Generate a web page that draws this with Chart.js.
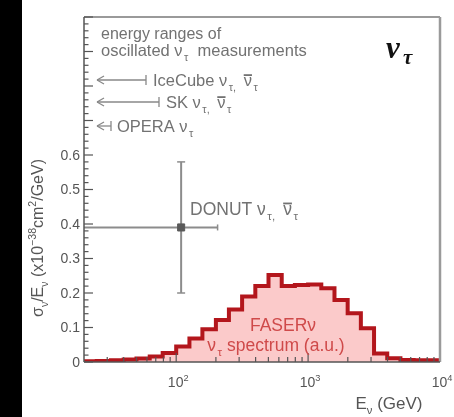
<!DOCTYPE html>
<html>
<head>
<meta charset="utf-8">
<script src="https://cdn.jsdelivr.net/npm/chart.js@4"></script>
<style>
  html, body { margin: 0; padding: 0; background: #fff; }
  #wrap { width: 454px; height: 417px; }
</style>
</head>
<body>
<div id="wrap"><canvas id="nutau"></canvas></div>
<script>
// FASERnu tau-neutrino spectrum, binned in 0.1 decades of energy (GeV)
const binEdges = [20, 25, 32, 40, 50, 63, 79, 100, 126, 158, 200, 251, 316, 398, 501,
    631, 794, 1000, 1259, 1585, 1995, 2512, 3162, 3981, 5012, 6310, 7943, 10000];
const spectrum = [0.002, 0.003, 0.005, 0.007, 0.010, 0.016, 0.026, 0.045, 0.068, 0.095,
    0.122, 0.152, 0.190, 0.220, 0.252, 0.220, 0.223, 0.225, 0.214, 0.180, 0.141, 0.098,
    0.025, 0.011, 0.006, 0.005, 0.005];

// DONUT measurement: energy, sigma/E, and error bar extent
const donutE = 109;
const donutSigma = 0.39;
const donutSigmaRange = [0.2, 0.58];
const donutERange = [10, 206];

// axis ticks
const yTickLabels = ["0", "0.1", "0.2", "0.3", "0.4", "0.5", "0.6"];
const xTickLabels = [[100, "2"], [1000, "3"], [10000, "4"]];

const FONT = '"Liberation Sans", Arial, sans-serif';

var histData = binEdges.map((e, i) => ({ x: e, y: spectrum[Math.min(i, spectrum.length - 1)] }));

function drawRich(ctx, x, y, parts, align, size) {
    let w = 0;
    parts.forEach(p => {
        p.s = p.sub || p.sup ? size * 0.66 : size;
        ctx.font = p.s + 'px ' + FONT;
        p.w = ctx.measureText(p.t).width + (p.pad || 0);
        w += p.w;
    });
    let cx = align === 'center' ? x - w / 2 : (align === 'right' ? x - w : x);
    parts.forEach(p => {
        ctx.font = p.s + 'px ' + FONT;
        let dy = p.sub ? size * 0.3 : (p.sup ? -size * 0.42 : 0);
        ctx.fillText(p.t, cx + (p.pad || 0), y + dy);
        if (p.bar) {
            ctx.save();
            ctx.lineWidth = 1.8;
            ctx.strokeStyle = ctx.fillStyle;
            ctx.beginPath();
            ctx.moveTo(cx, y - size * 0.66);
            ctx.lineTo(cx + p.w, y - size * 0.66);
            ctx.stroke();
            ctx.restore();
        }
        cx += p.w;
    });
}

function line(ctx, x1, y1, x2, y2) {
    ctx.beginPath();
    ctx.moveTo(x1, y1);
    ctx.lineTo(x2, y2);
    ctx.stroke();
}

// range arrow: open head on the left, bar on the right
function rangeArrow(ctx, x1, x2, y) {
    line(ctx, x1, y, x2, y);
    line(ctx, x1, y, x1 + 7, y - 4);
    line(ctx, x1, y, x1 + 7, y + 4);
    line(ctx, x2, y - 5, x2, y + 5);
}

// "nu_tau, nubar_tau" label pieces
function nuPair(prefix) {
    return [{ t: prefix + 'ν' }, { t: 'τ, ', sub: true, pad: 1.5 }, { t: ' ' },
        { t: 'ν', bar: true }, { t: 'τ', sub: true, pad: 1.5 }];
}

const decor = {
    id: 'decor',
    beforeDraw(chart) {
        const ctx = chart.ctx;
        ctx.save();
        ctx.fillStyle = '#fff';
        ctx.fillRect(0, 0, chart.width, chart.height);
        ctx.fillStyle = '#000';
        ctx.fillRect(0, 0, 22, chart.height);
        ctx.restore();
    },
    afterDatasetsDraw(chart) {
        const ctx = chart.ctx;
        const a = chart.chartArea;
        const xs = chart.scales.x, ys = chart.scales.y;
        ctx.save();

        // frame
        ctx.strokeStyle = '#9a9a9a';
        ctx.lineWidth = 2;
        line(ctx, a.left, a.top, a.right, a.top);
        ctx.lineWidth = 2.5;
        line(ctx, a.right, a.top, a.right, a.bottom);
        ctx.strokeStyle = '#555';
        ctx.lineWidth = 1.5;
        line(ctx, a.left, a.top, a.left, a.bottom);
        line(ctx, a.left, a.bottom, a.right, a.bottom);

        // y ticks, pointing inward
        ctx.lineWidth = 1.2;
        for (let i = 0; i <= 50; i++) {
            const py = ys.getPixelForValue(i * 0.02);
            line(ctx, a.left, py, a.left + (i % 5 === 0 ? 9 : 4.5), py);
        }
        // x ticks, pointing inward
        for (let d = 10; d < 10000; d *= 10) {
            for (let m = 1; m <= 9; m++) {
                const v = d * m;
                if (v <= xs.min || v >= xs.max) continue;
                const px = xs.getPixelForValue(v);
                line(ctx, px, a.bottom, px, a.bottom - (m === 1 ? 9 : 5));
            }
        }

        // tick labels
        ctx.fillStyle = '#555';
        ctx.font = '14px ' + FONT;
        ctx.textAlign = 'right';
        ctx.textBaseline = 'middle';
        yTickLabels.forEach(t => {
            ctx.fillText(t, a.left - 4, ys.getPixelForValue(parseFloat(t)) + 1);
        });
        ctx.textAlign = 'left';
        ctx.textBaseline = 'alphabetic';
        xTickLabels.forEach(([v, ex]) => {
            drawRich(ctx, xs.getPixelForValue(v) + 2, a.bottom + 25,
                [{ t: '10' }, { t: ex, sup: true }], 'center', 14);
        });

        // axis titles
        drawRich(ctx, 389, 409, [{ t: 'E' }, { t: 'ν', sub: true }, { t: ' (GeV)' }], 'center', 17);
        ctx.save();
        ctx.translate(43, 238);
        ctx.rotate(-Math.PI / 2);
        drawRich(ctx, 0, 0, [{ t: 'σ' }, { t: 'ν', sub: true }, { t: '/E' }, { t: 'ν', sub: true },
            { t: ' (x10' }, { t: '−38', sup: true }, { t: 'cm' }, { t: '2', sup: true }, { t: '/GeV)' }],
            'center', 16);
        ctx.restore();

        // measurement ranges
        ctx.fillStyle = '#727272';
        ctx.strokeStyle = '#888';
        ctx.lineWidth = 1.3;
        drawRich(ctx, 101, 39, [{ t: 'energy ranges of' }], 'left', 16);
        drawRich(ctx, 101, 56, [{ t: 'oscillated ν' }, { t: 'τ', sub: true, pad: 1.5 }, { t: '  measurements' }], 'left', 16.5);
        rangeArrow(ctx, 97, 146, 80);
        drawRich(ctx, 153, 86, nuPair('IceCube '), 'left', 16.5);
        rangeArrow(ctx, 97, 159, 102);
        drawRich(ctx, 166, 108, nuPair('SK '), 'left', 16.5);
        rangeArrow(ctx, 97, 111, 126);
        drawRich(ctx, 117, 132, [{ t: 'OPERA ν' }, { t: 'τ', sub: true, pad: 1.5 }], 'left', 16.5);

        // DONUT label and error bar caps
        drawRich(ctx, 190, 215, nuPair('DONUT '), 'left', 17.5);
        ctx.strokeStyle = '#8c8c8c';
        ctx.lineWidth = 1.5;
        const dx = xs.getPixelForValue(donutE);
        donutSigmaRange.forEach(v => {
            const py = ys.getPixelForValue(v);
            line(ctx, dx - 4, py, dx + 4, py);
        });
        const ex = xs.getPixelForValue(donutERange[1]);
        const ey = ys.getPixelForValue(donutSigma);
        line(ctx, ex, ey - 3, ex, ey + 3);

        // spectrum caption
        ctx.fillStyle = '#cf4a4a';
        drawRich(ctx, 283, 331, [{ t: 'FASERν' }], 'center', 17.5);
        drawRich(ctx, 276, 351, [{ t: 'ν' }, { t: 'τ', sub: true, pad: 1.5 }, { t: ' spectrum (a.u.)' }], 'center', 17.5);

        // flavour symbol
        ctx.fillStyle = '#111';
        ctx.font = 'bold italic 31px "Liberation Serif", serif';
        ctx.fillText('ν', 386, 58);
        ctx.font = 'bold italic 21px "Liberation Serif", serif';
        ctx.fillText('τ', 403, 64);

        ctx.restore();
    }
};

const ctx = document.getElementById('nutau').getContext('2d');
new Chart(ctx, {
    type: 'line',
    data: {
        datasets: [
            {
                type: 'scatter',
                data: [{ x: donutE, y: donutSigma }],
                pointStyle: 'rect',
                pointRadius: 5,
                backgroundColor: '#5a5a5a',
                borderColor: '#5a5a5a',
                order: 0
            },
            {
                data: [{ x: donutERange[0], y: donutSigma }, { x: donutERange[1], y: donutSigma }],
                borderColor: '#8c8c8c',
                borderWidth: 2,
                pointRadius: 0,
                order: 1
            },
            {
                data: [{ x: donutE, y: donutSigmaRange[0] }, { x: donutE, y: donutSigmaRange[1] }],
                borderColor: '#8c8c8c',
                borderWidth: 2,
                pointRadius: 0,
                order: 1
            },
            {
                data: histData,
                stepped: 'before',
                fill: 'origin',
                borderColor: '#b3161c',
                backgroundColor: '#fbcaca',
                borderWidth: 4,
                pointRadius: 0,
                order: 2
            }
        ]
    },
    options: {
        responsive: true,
        maintainAspectRatio: false,
        animation: false,
        events: [],
        layout: { padding: { left: 84, top: 17, right: 14, bottom: 55 } },
        scales: {
            x: { type: 'logarithmic', min: 20, max: 10000, display: false },
            y: { type: 'linear', min: 0, max: 1, display: false }
        },
        plugins: { legend: { display: false }, tooltip: { enabled: false } }
    },
    plugins: [decor]
});
</script>
</body>
</html>
